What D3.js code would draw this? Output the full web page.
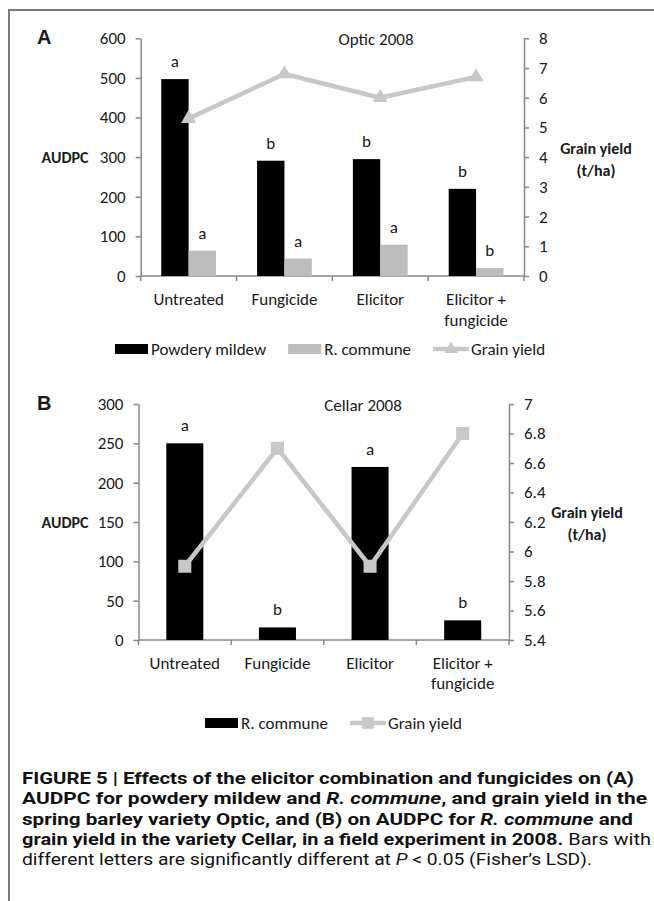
<!DOCTYPE html>
<html>
<head>
<meta charset="utf-8">
<script src="https://cdn.jsdelivr.net/npm/d3@7"></script>
<style>
  body { margin: 0; background: #fff; }
  svg { display: block; }
</style>
</head>
<body>
<script>

// ================================ data
var categories = ["Untreated", "Fungicide", "Elicitor", "Elicitor + fungicide"];
var categoryLines = [["Untreated"], ["Fungicide"], ["Elicitor"], ["Elicitor +", "fungicide"]];

// panel A - Optic 2008
var mildewA = [497, 291, 295, 220];
var communeA = [64, 44, 79, 20];
var yieldA = [5.3, 6.8, 6.0, 6.7];
var mildewLettersA = ["a", "b", "b", "b"];
var communeLettersA = ["a", "a", "a", "b"];
var leftTicksA = [0, 100, 200, 300, 400, 500, 600];
var rightTicksA = [0, 1, 2, 3, 4, 5, 6, 7, 8];

// panel B - Cellar 2008
var communeB = [250, 16, 220, 25];
var yieldB = [5.9, 6.7, 5.9, 6.8];
var communeLettersB = ["a", "b", "a", "b"];
var leftTicksB = [0, 50, 100, 150, 200, 250, 300];
var rightTicksB = [5.4, 5.6, 5.8, 6, 6.2, 6.4, 6.6, 6.8, 7];

// ================================ page
var svgWidth = 654;
var svgHeight = 901;
var chartFont = "Carlito, Lato, 'Open Sans', sans-serif";
var textColor = "#1a1a1a";
var axisColor = "#878787";
var barBlack = "#000000";
var barGray = "#bdbdbd";
var lineGray = "#c8c8c8";

var svg = d3.select("body")
  .append("svg")
  .attr("width", svgWidth)
  .attr("height", svgHeight);

svg.append("rect").attr("width", svgWidth).attr("height", svgHeight).attr("fill", "#fff");

// frame (top + left only)
svg.append("path")
  .attr("d", "M9,901 L9,10 L654,10")
  .attr("fill", "none")
  .attr("stroke", "#7a7a7a")
  .attr("stroke-width", 2);

function drawPanel(p) {
  var g = svg.append("g");

  var x0 = d3.scaleBand()
    .domain(categories)
    .range([p.left, p.right])
    .padding(0);
  var bw = x0.bandwidth();

  var yL = d3.scaleLinear().domain(p.leftDomain).range([p.bottom, p.top]);
  var yR = d3.scaleLinear().domain(p.rightDomain).range([p.bottom, p.top]);

  // left axis
  var leftAxis = d3.axisLeft(yL).tickValues(p.leftTicks).tickSize(5).tickSizeOuter(0).tickPadding(10);
  var gl = g.append("g").attr("transform", `translate(${p.left},0)`).call(leftAxis);
  // right axis
  var rightAxis = d3.axisRight(yR).tickValues(p.rightTicks).tickSize(5).tickSizeOuter(0).tickPadding(10)
    .tickFormat(d3.format("~g"));
  var gr = g.append("g").attr("transform", `translate(${p.right},0)`).call(rightAxis);

  [gl, gr].forEach(function (a) {
    a.selectAll("path, line").attr("stroke", axisColor).attr("stroke-width", 1.5);
    a.selectAll("text")
      .attr("font-family", chartFont)
      .attr("font-size", 17)
      .attr("fill", textColor);
  });

  // bottom axis with ticks on category boundaries
  g.append("line")
    .attr("x1", p.left).attr("x2", p.right)
    .attr("y1", p.bottom).attr("y2", p.bottom)
    .attr("stroke", axisColor).attr("stroke-width", 1.5);
  var bounds = categories.map(c => x0(c)).concat([p.right]);
  g.selectAll(".xtick")
    .data(bounds)
    .enter()
    .append("line")
    .attr("x1", d => d).attr("x2", d => d)
    .attr("y1", p.bottom).attr("y2", p.bottom + 5)
    .attr("stroke", axisColor).attr("stroke-width", 1.5);

  // category labels
  categoryLines.forEach(function (lines, i) {
    lines.forEach(function (t, j) {
      g.append("text")
        .attr("x", x0(categories[i]) + bw / 2)
        .attr("y", p.bottom + 29 + j * p.labelGap)
        .attr("text-anchor", "middle")
        .attr("font-family", chartFont)
        .attr("font-size", 17)
        .attr("fill", textColor)
        .text(t);
    });
  });

  // bars (Excel gap width 150%)
  var n = p.series.length;
  var barW = bw / (n + 1.5);
  p.series.forEach(function (s, k) {
    var xOff = (bw - n * barW) / 2 + k * barW;
    g.selectAll(".bar" + k)
      .data(s.values)
      .enter()
      .append("rect")
      .attr("x", (d, i) => x0(categories[i]) + xOff)
      .attr("y", d => yL(d))
      .attr("width", barW)
      .attr("height", d => p.bottom - yL(d))
      .attr("fill", s.color);

    g.selectAll(".letter" + k)
      .data(s.letters)
      .enter()
      .append("text")
      .attr("x", (d, i) => x0(categories[i]) + xOff + barW / 2)
      .attr("y", (d, i) => yL(s.values[i]) - 12)
      .attr("text-anchor", "middle")
      .attr("font-family", chartFont)
      .attr("font-size", 17)
      .attr("fill", textColor)
      .text(d => d);
  });

  // grain yield line on secondary axis
  var line = d3.line()
    .x((d, i) => x0(categories[i]) + bw / 2)
    .y(d => yR(d));
  g.append("path")
    .datum(p.yieldValues)
    .attr("d", line)
    .attr("fill", "none")
    .attr("stroke", lineGray)
    .attr("stroke-width", 4.5)
    .attr("stroke-linejoin", "round");
  g.selectAll(".marker")
    .data(p.yieldValues)
    .enter()
    .append("path")
    .attr("transform", (d, i) => `translate(${x0(categories[i]) + bw / 2},${yR(d)})`)
    .attr("d", d3.symbol().type(p.symbol).size(p.symbolSize))
    .attr("fill", lineGray);

  // titles
  g.append("text")
    .attr("x", p.titleX).attr("y", p.top + 7)
    .attr("text-anchor", "middle")
    .attr("font-family", chartFont).attr("font-size", 17).attr("fill", textColor)
    .text(p.title);
  g.append("text")
    .attr("x", 37).attr("y", p.top + 6)
    .attr("font-family", "'Liberation Sans', Arial, sans-serif").attr("font-size", 20)
    .attr("font-weight", "bold").attr("fill", textColor)
    .text(p.letter);
  g.append("text")
    .attr("x", 65).attr("y", yL(p.audpcAt) + 6)
    .attr("text-anchor", "middle")
    .attr("font-family", chartFont).attr("font-size", 16).attr("font-weight", "bold").attr("fill", textColor)
    .text("AUDPC");
  ["Grain yield", "(t/ha)"].forEach(function (t, j) {
    g.append("text")
      .attr("x", p.right + p.gyOffset).attr("y", p.gyY + j * 22)
      .attr("text-anchor", "middle")
      .attr("font-family", chartFont).attr("font-size", 16).attr("font-weight", "bold").attr("fill", textColor)
      .text(t);
  });

  // legend
  var lg = g.append("g").attr("transform", `translate(0,${p.legendY})`);
  var lx = p.legendX;
  p.series.forEach(function (s) {
    lg.append("rect").attr("x", lx).attr("y", -5).attr("width", 33).attr("height", 10).attr("fill", s.color);
    var t = lg.append("text").attr("x", lx + 36).attr("y", 6)
      .attr("font-family", chartFont).attr("font-size", 17).attr("fill", textColor).text(s.name);
    lx += 36 + t.node().getComputedTextLength() + p.legendGap;
  });
  lg.append("line").attr("x1", lx).attr("x2", lx + 36).attr("y1", 0).attr("y2", 0)
    .attr("stroke", lineGray).attr("stroke-width", 4.5);
  lg.append("path").attr("transform", `translate(${lx + 18},0)`)
    .attr("d", d3.symbol().type(p.symbol).size(p.symbolSize * 0.8)).attr("fill", lineGray);
  lg.append("text").attr("x", lx + 38).attr("y", 6)
    .attr("font-family", chartFont).attr("font-size", 17).attr("fill", textColor).text("Grain yield");
}

drawPanel({
  letter: "A", title: "Optic 2008", titleX: 376,
  left: 140.7, right: 524, top: 38.3, bottom: 276,
  leftDomain: [0, 600], rightDomain: [0, 8],
  leftTicks: leftTicksA, rightTicks: rightTicksA,
  series: [
    { name: "Powdery mildew", values: mildewA, letters: mildewLettersA, color: barBlack },
    { name: "R. commune", values: communeA, letters: communeLettersA, color: barGray }
  ],
  yieldValues: yieldA, symbol: d3.symbolTriangle, symbolSize: 100,
  audpcAt: 300, gyOffset: 72, gyY: 154, labelGap: 21,
  legendY: 349, legendX: 115, legendGap: 22
});

drawPanel({
  letter: "B", title: "Cellar 2008", titleX: 363,
  left: 138.5, right: 509, top: 404, bottom: 640,
  leftDomain: [0, 300], rightDomain: [5.4, 7],
  leftTicks: leftTicksB, rightTicks: rightTicksB,
  series: [
    { name: "R. commune", values: communeB, letters: communeLettersB, color: barBlack }
  ],
  yieldValues: yieldB, symbol: d3.symbolSquare, symbolSize: 170,
  audpcAt: 150, gyOffset: 78, gyY: 518, labelGap: 20,
  legendY: 723, legendX: 205, legendGap: 22
});

// ================================ caption
var captionFont = "'Liberation Sans Narrow', 'Roboto', 'Liberation Sans', sans-serif";
var captionLines = [
  { end: 634, parts: [["FIGURE 5 | Effects of the elicitor combination and fungicides on (A)", "b"]] },
  { end: 647, parts: [["AUDPC for powdery mildew and ", "b"], ["R. commune", "bi"], [", and grain yield in the", "b"]] },
  { end: 633, parts: [["spring barley variety Optic, and (B) on AUDPC for ", "b"], ["R. commune", "bi"], [" and", "b"]] },
  { end: 651, parts: [["grain yield in the variety Cellar, in a field experiment in 2008.", "b"], [" Bars with", "n"]] },
  { end: 592, parts: [["different letters are significantly different at ", "n"], ["P", "i"], [" < 0.05 (Fisher\u2019s LSD).", "n"]] }
];

captionLines.forEach(function (ln, i) {
  var t = svg.append("text")
    .attr("x", 22)
    .attr("y", 784 + i * 20.3)
    .attr("font-family", captionFont)
    .attr("font-size", 16)
    .attr("fill", "#111")
    .attr("xml:space", "preserve")
    .style("white-space", "pre");
  ln.parts.forEach(function (pt) {
    t.append("tspan")
      .attr("font-weight", pt[1].indexOf("b") >= 0 ? "bold" : "normal")
      .attr("font-style", pt[1].indexOf("i") >= 0 ? "italic" : "normal")
      .text(pt[0]);
  });
  t.attr("textLength", ln.end - 22).attr("lengthAdjust", "spacingAndGlyphs");
});

</script>
</body>
</html>
